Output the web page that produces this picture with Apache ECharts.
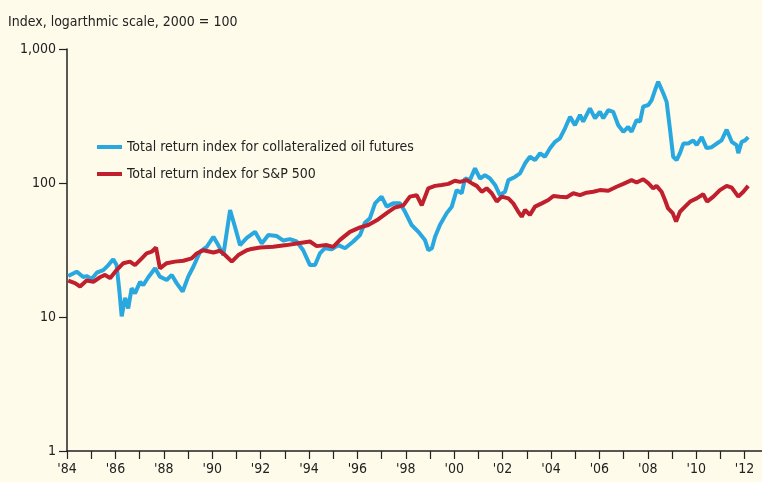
<!DOCTYPE html>
<html>
<head>
<meta charset="utf-8">
<script src="https://cdn.jsdelivr.net/npm/echarts@6/dist/echarts.min.js"></script>
<style>
  html, body { margin: 0; padding: 0; background: #fefbea; }
  #chart { width: 762px; height: 482px; }
</style>
</head>
<body>
<div id="chart"></div>
<script>
// oil futures total return index (2000 = 100)
var oilYears = [1984.05, 1984.40, 1984.67, 1984.81, 1985.02, 1985.23, 1985.50, 1985.71, 1985.91, 1986.05,
  1986.16, 1986.26, 1986.40, 1986.53, 1986.67, 1986.81, 1987.02, 1987.15, 1987.36, 1987.64,
  1987.84, 1988.12, 1988.33, 1988.53, 1988.78, 1989.01, 1989.22, 1989.50, 1989.77, 1990.05,
  1990.25, 1990.46, 1990.74, 1990.94, 1991.15, 1991.43, 1991.77, 1992.05, 1992.32, 1992.67,
  1992.94, 1993.21, 1993.49, 1993.76, 1994.04, 1994.25, 1994.45, 1994.66, 1994.94, 1995.21,
  1995.49, 1995.83, 1996.11, 1996.31, 1996.52, 1996.73, 1997.00, 1997.21, 1997.48, 1997.76,
  1997.97, 1998.24, 1998.52, 1998.79, 1998.93, 1999.08, 1999.21, 1999.41, 1999.69, 1999.90,
  2000.10, 2000.31, 2000.45, 2000.65, 2000.86, 2001.07, 2001.27, 2001.48, 2001.69, 2001.89,
  2002.10, 2002.24, 2002.51, 2002.72, 2002.93, 2003.13, 2003.34, 2003.55, 2003.75, 2003.96,
  2004.17, 2004.37, 2004.58, 2004.79, 2004.99, 2005.20, 2005.33, 2005.61, 2005.82, 2006.02,
  2006.16, 2006.37, 2006.57, 2006.78, 2006.99, 2007.19, 2007.33, 2007.54, 2007.68, 2007.81,
  2008.02, 2008.16, 2008.30, 2008.43, 2008.64, 2008.78, 2008.92, 2009.05, 2009.19, 2009.33,
  2009.47, 2009.67, 2009.88, 2010.02, 2010.23, 2010.43, 2010.64, 2010.85, 2011.05, 2011.26,
  2011.47, 2011.67, 2011.74, 2011.88, 2012.02, 2012.15];
var oilValues = [20.2, 21.8, 19.9, 20.2, 19.2, 21.4, 22.4, 24.4, 27, 24.4,
  15.9, 10.1, 13.9, 11.6, 16.4, 15, 18.3, 17.3, 19.8, 23.1,
  20.0, 18.9, 20.6, 17.9, 15.5, 20, 23.7, 30.7, 33.3, 39.7,
  34.4, 29, 62.9, 47.2, 34.4, 39, 43.2, 35.4, 40.9, 40.2,
  37.2, 38.1, 36.6, 31.5, 24.4, 24.4, 29.8, 32.6, 32, 34.4,
  32.6, 36.6, 40.9, 50.6, 54.6, 70.5, 79.1, 66.6, 70.5, 70.5,
  61, 48.6, 43.2, 37.6, 31.5, 32.6, 39.7, 48.6, 59.6, 66.6,
  88.5, 83.8, 108.3, 105, 128.6, 108, 114.6, 108, 96.7, 81.1,
  86, 105, 111, 117.9, 140.3, 157, 148, 166.6, 157, 181.6,
  203, 215, 256, 312, 270, 322, 287, 361, 304, 340,
  304, 350, 340, 270, 241, 262, 241, 295, 287, 371,
  382, 416, 494, 570, 467, 403, 250, 157, 148, 167,
  197, 197, 208, 192, 220, 182, 185, 197, 208, 250,
  203, 192, 167, 203, 208, 220];

// S&P 500 total return index (2000 = 100)
var spxYears = [1984.05, 1984.33, 1984.54, 1984.81, 1985.09, 1985.36, 1985.57, 1985.78, 1986.05, 1986.33,
  1986.60, 1986.81, 1987.09, 1987.29, 1987.50, 1987.68, 1987.84, 1988.12, 1988.46, 1988.81,
  1989.15, 1989.36, 1989.63, 1990.05, 1990.32, 1990.53, 1990.81, 1991.08, 1991.43, 1991.56,
  1991.98, 1992.52, 1993.08, 1993.49, 1994.04, 1994.32, 1994.73, 1995.00, 1995.28, 1995.69,
  1996.11, 1996.45, 1996.80, 1997.21, 1997.55, 1997.90, 1998.17, 1998.45, 1998.66, 1998.93,
  1999.21, 1999.48, 1999.76, 2000.03, 2000.24, 2000.52, 2000.72, 2000.93, 2001.14, 2001.34,
  2001.55, 2001.76, 2001.96, 2002.24, 2002.44, 2002.65, 2002.79, 2002.93, 2003.13, 2003.34,
  2003.62, 2003.89, 2004.10, 2004.37, 2004.65, 2004.92, 2005.20, 2005.47, 2005.75, 2006.02,
  2006.37, 2006.71, 2006.99, 2007.33, 2007.54, 2007.81, 2008.02, 2008.22, 2008.36, 2008.57,
  2008.71, 2008.84, 2009.03, 2009.17, 2009.33, 2009.54, 2009.75, 2010.02, 2010.29, 2010.45,
  2010.71, 2010.98, 2011.26, 2011.47, 2011.74, 2011.95, 2012.15];
var spxValues = [18.7, 17.9, 16.9, 18.7, 18.3, 19.8, 20.6, 19.5, 22.4, 25.2,
  25.9, 24.4, 27.4, 29.8, 30.7, 33, 23.1, 25.2, 25.9, 26.3,
  27.4, 29.8, 31.5, 30.3, 31.2, 29, 25.9, 29, 31.5, 32,
  33, 33.4, 34.4, 35.4, 36.6, 33.8, 34.4, 33.4, 37.6, 43.2,
  46.7, 48.6, 52.7, 59.6, 65.7, 68.1, 79.1, 81.1, 68.1, 91.3,
  95.2, 96.7, 98.5, 104, 102, 105, 99.7, 95.2, 86, 91.3,
  83.8, 72.7, 79.1, 76.8, 70.5, 61, 56, 62.9, 57.8, 66.6,
  70.5, 74.6, 80, 79, 78.4, 83.8, 81.1, 84.7, 86, 88.5,
  87.5, 93.8, 98.5, 105, 100.8, 106.6, 99.7, 91.3, 95.2, 86,
  74.6, 64.6, 59.6, 51.5, 61, 66.6, 72.7, 76.8, 82.5, 72.7,
  79.1, 88.5, 95.2, 92.3, 79.1, 86, 95.2];

var xTickYears = [];
for (var y = 1984; y <= 2012; y++) xTickYears.push(y);
var xLabelYears = xTickYears.filter(function (y) { return y % 2 === 0; });
var yTicks = [1, 10, 100, 1000];

function pairs(xs, vs) {
  var out = [];
  for (var i = 0; i < xs.length; i++) out.push([xs[i], vs[i]]);
  return out;
}

var font = '"Liberation Sans Narrow", "DejaVu Sans Condensed", sans-serif';
var chart = echarts.init(document.getElementById('chart'));
chart.setOption({
  backgroundColor: '#fefbea',
  animation: false,
  textStyle: { fontFamily: font },
  title: {
    text: 'Index, logarthmic scale, 2000 = 100',
    left: 3, top: 10,
    textStyle: { fontFamily: font, fontSize: 14, fontWeight: 'normal', color: '#222' }
  },
  legend: {
    orient: 'vertical',
    left: 92, top: 135,
    icon: 'rect',
    itemWidth: 25, itemHeight: 4,
    itemGap: 13,
    textStyle: { fontFamily: font, fontSize: 14, color: '#222' },
    data: ['Total return index for collateralized oil futures', 'Total return index for S&P 500']
  },
  grid: { left: 67, right: 0, top: 49, bottom: 31 },
  xAxis: {
    type: 'value',
    min: 1984, max: 2012.72,
    splitLine: { show: false },
    axisLine: { lineStyle: { color: '#222', width: 1.5 } },
    axisTick: { customValues: xTickYears, length: 8, lineStyle: { color: '#222', width: 1.2 } },
    axisLabel: {
      customValues: xLabelYears,
      margin: 11,
      fontFamily: font, fontSize: 14, color: '#222',
      formatter: function (v) { return "'" + String(v).slice(2); }
    }
  },
  yAxis: {
    type: 'log',
    logBase: 10,
    min: 1, max: 1000,
    splitLine: { show: false },
    axisLine: { show: true, lineStyle: { color: '#222', width: 1.5 } },
    axisTick: { show: true, customValues: yTicks, length: 8, lineStyle: { color: '#222', width: 1.2 } },
    axisLabel: {
      customValues: yTicks,
      margin: 11,
      fontFamily: font, fontSize: 14, color: '#222',
      formatter: function (v) { return v >= 1000 ? '1,000' : String(v); }
    }
  },
  series: [
    {
      name: 'Total return index for collateralized oil futures',
      type: 'line',
      data: pairs(oilYears, oilValues),
      showSymbol: false,
      color: '#29a8e0',
      lineStyle: { width: 4, color: '#29a8e0' }
    },
    {
      name: 'Total return index for S&P 500',
      type: 'line',
      data: pairs(spxYears, spxValues),
      showSymbol: false,
      color: '#c01f2e',
      lineStyle: { width: 4, color: '#c01f2e' }
    }
  ]
});
</script>
</body>
</html>
